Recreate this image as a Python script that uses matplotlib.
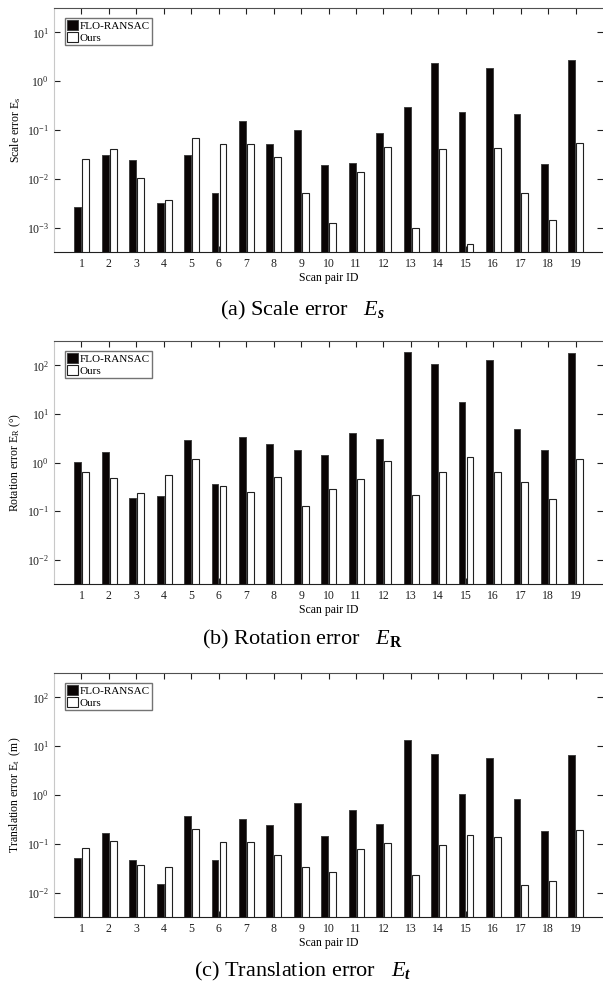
import numpy as np
import matplotlib as mpl
mpl.use('Agg')
import matplotlib.pyplot as plt
from matplotlib.ticker import LogLocator, NullLocator, FixedLocator

plt.rcParams['font.family'] = ['Liberation Serif', 'DejaVu Serif']
plt.rcParams['mathtext.fontset'] = 'custom'
plt.rcParams['mathtext.rm'] = 'Liberation Serif'
plt.rcParams['mathtext.it'] = 'Liberation Serif:italic'
plt.rcParams['mathtext.bf'] = 'Liberation Serif:bold'
plt.rcParams['mathtext.bfit'] = 'Liberation Serif:italic:bold'

ids = np.arange(1, 20)

# scale error
scale_flo = [0.0026, 0.031, 0.024, 0.0032, 0.031, 0.0052, 0.15, 0.052, 0.10, 0.0195,
             0.021, 0.085, 0.30, 2.4, 0.23, 1.9, 0.21, 0.020, 2.7]
scale_ours = [0.025, 0.041, 0.0103, 0.0037, 0.069, 0.051, 0.052, 0.028, 0.0052, 0.00126,
              0.0137, 0.045, 0.0010, 0.041, 0.00045, 0.043, 0.0050, 0.00145, 0.055]

# rotation error (deg)
rot_flo = [1.03, 1.65, 0.19, 0.20, 2.9, 0.36, 3.3, 2.45, 1.85, 1.4,
           4.0, 3.0, 186, 106, 17.6, 128, 4.8, 1.85, 179]
rot_ours = [0.63, 0.47, 0.24, 0.55, 1.17, 0.33, 0.25, 0.51, 0.125, 0.28,
            0.45, 1.05, 0.21, 0.65, 1.3, 0.65, 0.39, 0.18, 1.17]

# translation error (m)
tr_flo = [0.051, 0.166, 0.046, 0.015, 0.376, 0.047, 0.316, 0.246, 0.67, 0.146,
          0.50, 0.25, 13.3, 6.9, 1.07, 5.85, 0.84, 0.18, 6.5]
tr_ours = [0.084, 0.115, 0.037, 0.034, 0.197, 0.108, 0.107, 0.059, 0.033, 0.0266,
           0.080, 0.103, 0.023, 0.094, 0.155, 0.135, 0.014, 0.017, 0.19]

panels = [
    (scale_flo, scale_ours, 'Scale error E$_{\\rm s}$', (10**-3.5, 10**1.5),
     [0.7442, 0.9919], '(a) Scale error   $E_\\mathbfit{s}$', 0.6802),
    (rot_flo, rot_ours, 'Rotation error E$_{\\rm R}$ ($\\degree$)', (10**-2.5, 10**2.5),
     [0.4071, 0.6538], '(b) Rotation error   $E_\\mathbf{R}$', 0.3462),
    (tr_flo, tr_ours, 'Translation error E$_{\\rm t}$  (m)', (10**-2.5, 10**2.5),
     [0.0690, 0.3168], '(c) Translation error   $E_\\mathbfit{t}$', 0.0085),
]

fig = plt.figure(figsize=(6.03, 9.85), dpi=100)

for flo, ours, ylab, ylim, (y0, y1), cap, capy in panels:
    ax = fig.add_axes([0.0896, y0, 1.0 - 0.0896, y1 - y0])
    ax.bar(ids - 0.135, flo, width=0.25, color='#0a0505', edgecolor='#404040',
           linewidth=0.7, label='FLO-RANSAC', zorder=2)
    ax.bar(ids + 0.155, ours, width=0.25, color='white', edgecolor='#202020',
           linewidth=0.8, label='Ours', zorder=2)
    ax.set_yscale('log')
    ax.set_ylim(*ylim)
    ax.set_xlim(0, 20)
    ax.xaxis.set_major_locator(FixedLocator(ids))
    ax.yaxis.set_major_locator(LogLocator(base=10, numticks=10))
    ax.yaxis.set_minor_locator(NullLocator())
    ax.tick_params(axis='both', direction='in', length=4, width=0.8, labelsize=8.5,
                   top=True, right=True, colors='#202020')
    ax.tick_params(axis='x', pad=4)
    ax.spines['right'].set_visible(False)
    ax.spines['left'].set_color('#c8c8c8')
    ax.spines['top'].set_color('#505050')
    ax.spines['bottom'].set_color('#202020')
    ax.set_xlabel('Scan pair ID', fontsize=8.5, labelpad=1.5)
    ax.set_ylabel(ylab, fontsize=8.5, labelpad=3)
    leg = ax.legend(loc='upper left', fontsize=8, frameon=True, fancybox=False,
                    handlelength=1.0, handleheight=1.0, handletextpad=0.1,
                    borderpad=0.2, labelspacing=0.1, borderaxespad=0.0,
                    bbox_to_anchor=(0.02, 0.96))
    leg.get_frame().set_edgecolor('#505050')
    leg.get_frame().set_linewidth(1.0)
    fig.text(0.502, capy, cap, ha='center', va='baseline', fontsize=16)

fig.savefig('out.png', dpi=100)
